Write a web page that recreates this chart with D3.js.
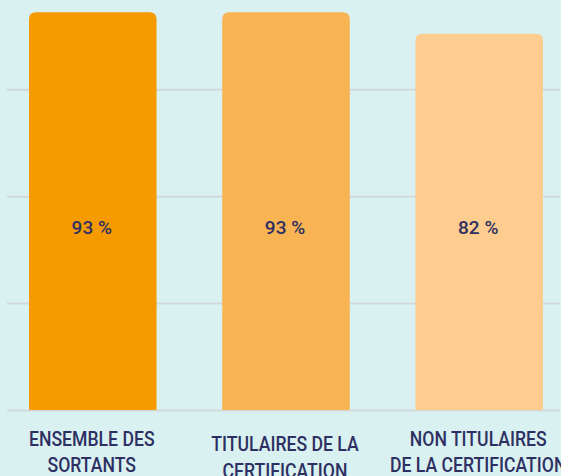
<!DOCTYPE html>
<html>
<head>
<meta charset="utf-8">
<script src="https://cdn.jsdelivr.net/npm/d3@7"></script>
<style>
  html, body { margin: 0; padding: 0; background: #d9f1f1; }
  svg { display: block; }
</style>
</head>
<body>
<svg id="chart"></svg>
<script>
const categories = ['ENSEMBLE DES SORTANTS', 'TITULAIRES DE LA CERTIFICATION', 'NON TITULAIRES DE LA CERTIFICATION']
const categoryLines = [['ENSEMBLE DES', 'SORTANTS'], ['TITULAIRES DE LA', 'CERTIFICATION'], ['NON TITULAIRES', 'DE LA CERTIFICATION']]
// bar heights as drawn in the picture, and the values printed on them
const barValues = [93, 93, 88]
const labelValues = [93, 93, 82]
const gridTicks = [0, 25, 50, 75, 100]
const colors = ['#f59a00', '#f8b452', '#fccd8e']

const width = 561, height = 476
const baseY = 410

const svg = d3.select('#chart')
  .attr('width', width)
  .attr('height', height)

const x = d3.scaleBand()
  .domain(categories)
  .range([29, 543])
  .paddingInner(0.34)
  .paddingOuter(0)

const y = d3.scaleLinear()
  .domain([0, 100])
  .range([baseY, baseY - 427.6])

// gridlines
svg.append('g')
  .attr('transform', 'translate(7,0)')
  .call(d3.axisLeft(y).tickValues(gridTicks).tickSize(-553).tickFormat(''))
  .call(g => g.select('.domain').remove())
  .call(g => g.selectAll('.tick line').attr('stroke', '#d3d9d9').attr('stroke-width', 2))

const r = 7
const barPath = (x0, w, y0, y1) => {
  return `M${x0},${y1} L${x0},${y0 + r} Q${x0},${y0} ${x0 + r},${y0} L${x0 + w - r},${y0} Q${x0 + w},${y0} ${x0 + w},${y0 + r} L${x0 + w},${y1} Z`
}

svg.append('g').selectAll('path')
  .data(categories)
  .enter()
  .append('path')
  .attr('d', (d, i) => barPath(x(d), x.bandwidth(), y(barValues[i]), y(0)))
  .attr('fill', (d, i) => colors[i])

// value labels
svg.append('g').selectAll('text')
  .data(categories)
  .enter()
  .append('text')
  .attr('x', d => x(d) + x.bandwidth() / 2 - 1)
  .attr('y', y(0) - 176)
  .attr('text-anchor', 'middle')
  .attr('font-family', 'Roboto, sans-serif')
  .attr('font-weight', 500)
  .attr('font-size', 19)
  .attr('fill', '#2e2f62')
  .text((d, i) => `${labelValues[i]} %`)

// category labels
const cats = svg.append('g').selectAll('g')
  .data(categories)
  .enter()
  .append('g')
  .attr('transform', (d, i) => `translate(${x(d) + x.bandwidth() / 2 - 1},${y(0) + 35.7 + (i === 1 ? 5.3 : 0)}) scale(0.84,1)`)

cats.selectAll('text')
  .data((d, i) => categoryLines[i])
  .enter()
  .append('text')
  .attr('y', (d, j) => j * 26.6)
  .attr('text-anchor', 'middle')
  .attr('font-family', 'Roboto, sans-serif')
  .attr('font-weight', 500)
  .attr('font-size', 21)
  .attr('fill', '#2e2f62')
  .text(d => d)
</script>
</body>
</html>
